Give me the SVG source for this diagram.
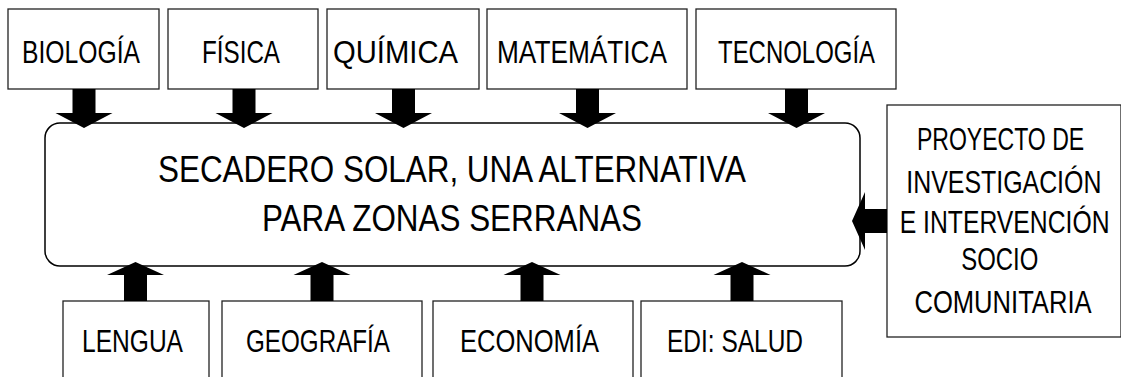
<svg xmlns="http://www.w3.org/2000/svg" width="1121" height="377" viewBox="0 0 1121 377">
<style>
.box{fill:#fff;stroke:#222;stroke-width:1.3}
.main{fill:#fff;stroke:#000;stroke-width:1.5}
.t{font-family:"Liberation Sans",Arial,sans-serif;fill:#000;font-size:32px}
.tm{font-family:"Liberation Sans",Arial,sans-serif;fill:#000;font-size:37px}
.c{text-anchor:middle}
.arr{fill:#000}
</style>
<rect width="1121" height="377" fill="#fff"/>
<g id="main">
<rect class="main" x="45" y="123" width="815" height="143" rx="15" ry="15"/>
<text class="tm" x="158" y="182" textLength="588" lengthAdjust="spacingAndGlyphs">SECADERO SOLAR, UNA ALTERNATIVA</text>
<text class="tm" x="262" y="231" textLength="380" lengthAdjust="spacingAndGlyphs">PARA ZONAS SERRANAS</text>
</g>
<g id="biologia"><rect class="box" x="8" y="9" width="151" height="80"/><text class="t" x="22" y="63" textLength="118" lengthAdjust="spacingAndGlyphs">BIOLOGÍA</text></g>
<g id="fisica"><rect class="box" x="168" y="9" width="150" height="80"/><text class="t" x="202" y="63" textLength="78" lengthAdjust="spacingAndGlyphs">FÍSICA</text></g>
<g id="quimica"><rect class="box" x="327" y="9" width="152" height="80"/><text class="t" x="333" y="63" textLength="125" lengthAdjust="spacingAndGlyphs">QUÍMICA</text></g>
<g id="matematica"><rect class="box" x="487" y="9" width="200" height="80"/><text class="t" x="497" y="63" textLength="170" lengthAdjust="spacingAndGlyphs">MATEMÁTICA</text></g>
<g id="tecnologia"><rect class="box" x="696" y="9" width="200" height="80"/><text class="t" x="718" y="63" textLength="157" lengthAdjust="spacingAndGlyphs">TECNOLOGÍA</text></g>
<g id="lengua"><rect class="box" x="63" y="301" width="146" height="100"/><text class="t" x="82" y="352" textLength="101" lengthAdjust="spacingAndGlyphs">LENGUA</text></g>
<g id="geografia"><rect class="box" x="222" y="301" width="200" height="100"/><text class="t" x="246" y="352" textLength="144" lengthAdjust="spacingAndGlyphs">GEOGRAFÍA</text></g>
<g id="economia"><rect class="box" x="433" y="301" width="200" height="100"/><text class="t" x="460" y="352" textLength="139" lengthAdjust="spacingAndGlyphs">ECONOMÍA</text></g>
<g id="edi-salud"><rect class="box" x="641" y="301" width="201" height="100"/><text class="t" x="667" y="352" textLength="136" lengthAdjust="spacingAndGlyphs">EDI: SALUD</text></g>
<g id="proyecto">
<rect class="box" x="887" y="105" width="234" height="232"/>
<g transform="translate(1003,0) scale(0.82,1)">
<text class="t c" x="-3" y="150" textLength="204" lengthAdjust="spacingAndGlyphs">PROYECTO DE</text>
<text class="t c" x="1" y="193" textLength="238" lengthAdjust="spacingAndGlyphs">INVESTIGACIÓN</text>
<text class="t c" x="2" y="233" textLength="256" lengthAdjust="spacingAndGlyphs">E INTERVENCIÓN</text>
<text class="t c" x="-4" y="270" textLength="94" lengthAdjust="spacingAndGlyphs">SOCIO</text>
<text class="t c" x="0" y="313" textLength="216" lengthAdjust="spacingAndGlyphs">COMUNITARIA</text>
</g>
</g>
<defs>
<path id="down" d="M-11.5,0 H11.5 V24 H28.5 L0,39 L-28.5,24 H-11.5 Z"/>
<path id="up" d="M-11.5,0 H11.5 V-26 H28.5 L0,-39 L-28.5,-26 H-11.5 Z"/>
</defs>
<g id="connectors" class="arr">
<use href="#down" x="84" y="89"/>
<use href="#down" x="244" y="89"/>
<use href="#down" x="403.5" y="89"/>
<use href="#down" x="587.5" y="89"/>
<use href="#down" x="796.5" y="89"/>
<use href="#up" x="135.5" y="301"/>
<use href="#up" x="322" y="301"/>
<use href="#up" x="532" y="301"/>
<use href="#up" x="742" y="301"/>
<path d="M887,209 H865 V192 L852,221 L865,250 V233 H887 Z"/>
</g>
</svg>
